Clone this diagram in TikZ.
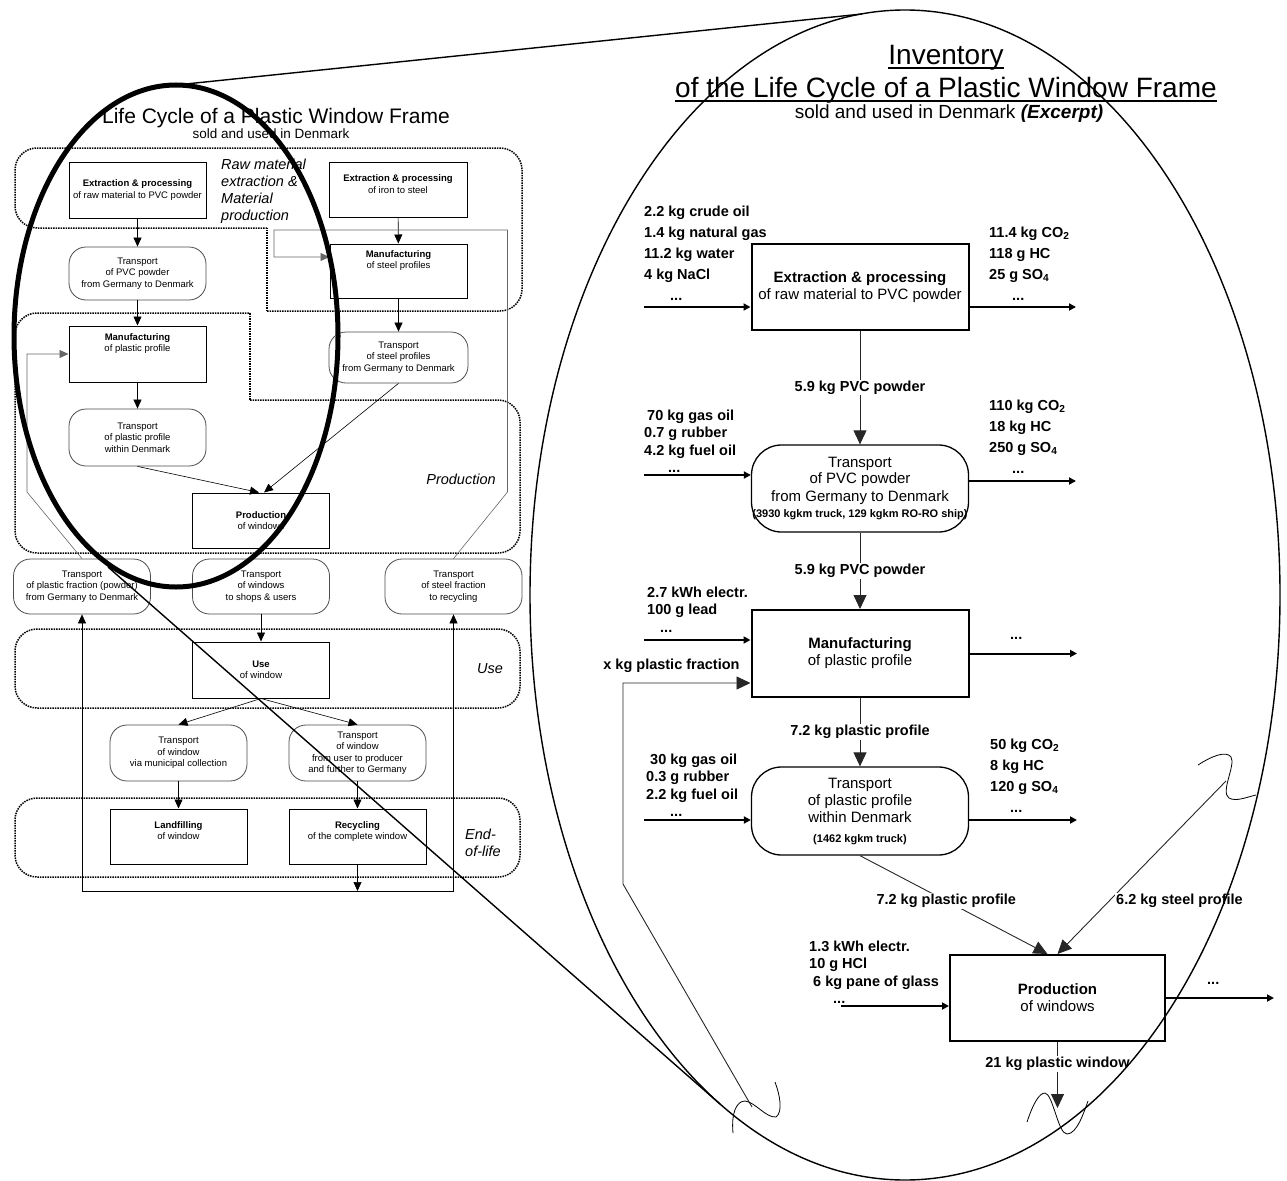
\documentclass[tikz,border=0pt]{standalone}
\usepackage{fontspec}
\setmainfont{Liberation Sans}
\usetikzlibrary{arrows.meta}

% text sizes
\newcommand\cyclefont{\fontsize{9.5}{11.5}\selectfont}
\newcommand\zonefont{\fontsize{14.5}{17}\selectfont\itshape}
\newcommand\invfont{\fontsize{15}{17}\selectfont}
\newcommand\qtyfont{\fontsize{14.5}{17.5}\selectfont\bfseries}
\newcommand\emisfont{\fontsize{14.5}{21}\selectfont\bfseries}
\newcommand\kmfont{\fontsize{11}{13}\selectfont\bfseries}

\tikzset{
  zone/.style={densely dotted, line width=1.5pt, rounded corners=22pt},
  zonelabel/.style={font=\zonefont, inner sep=0pt, align=left},
  procbox/.style={draw, fill=white, line width=1pt, minimum width=137, minimum height=55,
    inner sep=0pt, align=center, font=\cyclefont},
  transbox/.style={procbox, draw=black!70, line width=0.8pt, rounded corners=17pt},
  flow/.style={-{Triangle[length=9pt,width=8pt]}, line width=0.6pt},
  backflow/.style={flow, draw=black!60},
  invbox/.style={draw, fill=white, line width=2pt, minimum width=217, minimum height=86,
    inner sep=0pt, align=center, font=\invfont},
  invtrans/.style={invbox, line width=1.3pt, rounded corners=30pt},
  io/.style={line width=2pt, -{Triangle[length=7pt,width=7pt]}},
  link/.style={line width=0.9pt, draw=black!85, -{Triangle[length=14pt,width=13pt]}},
  qty/.style={font=\qtyfont, fill=white, inner sep=1pt},
  flowtext/.style={font=\qtyfont, align=left, anchor=base west, inner sep=0pt},
  emission/.style={flowtext, font=\emisfont},
  headline/.style={anchor=base, inner sep=0pt, font=\fontsize{28}{32}\selectfont},
  underline/.style={line width=1.8pt},
  cut/.style={line width=0.8pt},
  lens/.style={line width=5pt},
  cone/.style={line width=1.4pt},
}

\begin{document}
\begin{tikzpicture}[x=1pt, y=-1pt]
\useasboundingbox (0,0) rectangle (1287,1180);

% ---------- life cycle overview ----------
\node[font=\fontsize{21}{24}\selectfont, anchor=base] (lcTitle) at (276,124) {Life Cycle of a Plastic Window Frame};
\node[font=\fontsize{13.5}{16}\selectfont, anchor=base] (lcSub) at (271,139) {sold and used in Denmark};

% stages
\draw[zone] (267,228) -- (15,228) -- (15,148) -- (522,148) -- (522,311) -- (267,311);
\draw[zone] (267,311) -- (267,228);
\draw[zone] (250,400) -- (520,400) -- (520,553) -- (15,553) -- (15,313) -- (250,313);
\draw[zone] (250,313) -- (250,400);
\draw[zone] (15,629) rectangle (520,708);
\draw[zone] (15,798) rectangle (520,877);

% (multi-line labels sit on the baseline of their last line)
\node[zonelabel, anchor=base west] (zRaw) at (221,220) {Raw material\\extraction \&\\Material\\production};
\node[zonelabel, anchor=base] (zProd) at (461,484) {Production};
\node[zonelabel, anchor=base] (zUse) at (490,673) {Use};
\node[zonelabel, anchor=base west] (zEnd) at (465,856) {End-\\of-life};

% processes
\node[procbox, minimum height=56] (rawPVC) at (137.5,190) {\textbf{Extraction \& processing}\\of raw material to PVC powder};
\node[procbox, minimum width=138] (rawSteel) at (398,190) {\textbf{Extraction \& processing}\\of iron to steel\\\mbox{}};
\node[transbox, minimum height=53] (tPVC) at (137.5,273.5) {Transport\\of PVC powder\\from Germany to Denmark};
\node[procbox, minimum height=54] (mSteel) at (398.5,271) {\textbf{Manufacturing}\\of steel profiles\\\mbox{}\\\mbox{}};
\node[procbox, minimum height=56] (mPlastic) at (137.5,354) {\textbf{Manufacturing}\\of plastic profile\\\mbox{}\\\mbox{}};
\node[transbox, minimum width=139, minimum height=51] (tSteel) at (398.5,357.5) {Transport\\of steel profiles\\from Germany to Denmark};
\node[transbox, minimum height=57] (tPlastic) at (137.5,437.5) {Transport\\of plastic profile\\within Denmark};
\node[procbox] (prodWin) at (261,520.5) {\textbf{Production}\\of windows};
\node[transbox] (tFraction) at (82,586.5) {Transport\\of plastic fraction (powder)\\from Germany to Denmark};
\node[transbox] (tWindows) at (261,586.5) {Transport\\of windows\\to shops \& users};
\node[transbox] (tScrap) at (453.5,586.5) {Transport\\of steel fraction\\to recycling};
\node[procbox, minimum height=56] (useWin) at (261,670) {\textbf{Use}\\of window};
\node[transbox, minimum height=56] (tMunicipal) at (178.5,753) {Transport\\of window\\via municipal collection};
\node[transbox, minimum height=56] (tReturn) at (357.5,753) {Transport\\of window\\from user to producer\\and further to Germany};
\node[procbox] (landfill) at (178.5,836.5) {\textbf{Landfilling}\\of window\\\mbox{}};
\node[procbox] (recycle) at (357.5,836.5) {\textbf{Recycling}\\of the complete window\\\mbox{}};

% material flows
\draw[flow] (rawPVC) -- (tPVC);
\draw[flow] (rawSteel) -- (mSteel);
\draw[flow] (tPVC) -- (mPlastic);
\draw[flow] (mSteel) -- (tSteel);
\draw[flow] (mPlastic) -- (tPlastic);
\draw[flow] (tPlastic.south) -- ([xshift=-2pt]prodWin.north);
\draw[flow] (tSteel.south) -- ([xshift=3pt]prodWin.north);
\draw[flow] (tWindows) -- (useWin);
\draw[flow] (useWin.south) -- (tMunicipal.north);
\draw[flow] (useWin.south) -- (tReturn.north);
\draw[flow] (tMunicipal) -- (landfill);
\draw[flow] (tReturn) -- (recycle);
\coordinate (sortPt) at (357.5,891);
\draw[flow] (recycle) -- (sortPt);
\draw[flow] (sortPt) -| (tFraction);
\draw[flow] (sortPt) -| (tScrap);

% recycled fractions back into manufacturing
\draw[backflow] (tFraction.north) -- (27,492) |- (mPlastic.west);
\draw[backflow] (tScrap.north) -- (507.5,492) -- (507.5,230) -- (274,230) -- (274,257) -- ([yshift=14pt]mSteel.west);

% ---------- inventory excerpt ----------
\node[headline] (invTitleA) at (946,65) {Inventory};
\node[headline] (invTitleB) at (946,98) {of the Life Cycle of a Plastic Window Frame};
\draw[underline] ([yshift=-3pt]invTitleA.base west) -- ([yshift=-3pt]invTitleA.base east);
\draw[underline] ([yshift=-3pt]invTitleB.base west) -- ([yshift=-3pt]invTitleB.base east);
\node[font=\fontsize{19}{22}\selectfont, anchor=base] (invTitleC) at (949,119) {sold and used in Denmark \textbf{\textit{(Excerpt)}}};

\node[invbox] (iExtract) at (860,287) {\textbf{Extraction \& processing}\\of raw material to PVC powder};
\node[invtrans, minimum height=87] (iTrans) at (860,488.5) {Transport\\of PVC powder\\from Germany to Denmark\\{\kmfont (3930 kgkm truck, 129 kgkm RO-RO ship)}};
\node[invbox, minimum height=87] (iManuf) at (860,653.5) {\textbf{Manufacturing}\\of plastic profile};
\node[invtrans, minimum height=88] (iTransProf) at (860,811) {Transport\\of plastic profile\\within Denmark\\[3pt]{\kmfont (1462 kgkm truck)}};
\node[invbox, minimum width=215] (iProd) at (1057.5,998) {\textbf{Production}\\of windows};

% main chain
\draw[link] (iExtract) -- node[qty]{5.9 kg PVC powder} (iTrans);
\draw[link] (iTrans) -- node[qty]{5.9 kg PVC powder} (iManuf);
\draw[link] (iManuf) -- node[qty]{7.2 kg plastic profile} (iTransProf);
\draw[link] (iTransProf.south) -- node[qty, pos=0.46]{7.2 kg plastic profile} ([xshift=-10pt]iProd.north);
\coordinate (steelCut) at (1226,781);
\draw[link] (steelCut) -- node[qty, pos=0.69, anchor=west, xshift=5pt]{6.2 kg steel profile} (iProd.north);
\coordinate (windowCut) at (1057.5,1108);
\draw[link] (iProd) -- node[qty, pos=0.33]{21 kg plastic window} (windowCut);
\coordinate (fractionCut) at (752,1107);
\draw[link] (fractionCut) -- (623,884) |- node[qty, pos=0.69, above=9pt]{x kg plastic fraction} ([yshift=-29.5pt]iManuf.west);

% inputs and outputs
\coordinate (extSrc) at (644,307);   \coordinate (extSink) at (1076,307);
\coordinate (transSrc) at (644,475); \coordinate (transSink) at (1076,481);
\coordinate (manSrc) at (644,640);   \coordinate (manSink) at (1077,653.5);
\coordinate (profSrc) at (644,820);  \coordinate (profSink) at (1077,820);
\coordinate (prodSrc) at (841,1006); \coordinate (prodSink) at (1274,998);
\draw[io] (extSrc) -- (extSrc -| iExtract.west);
\draw[io] (extSink -| iExtract.east) -- (extSink);
\draw[io] (transSrc) -- (transSrc -| iTrans.west);
\draw[io] (transSink -| iTrans.east) -- (transSink);
\draw[io] (manSrc) -- (manSrc -| iManuf.west);
\draw[io] (manSink -| iManuf.east) -- (manSink);
\draw[io] (profSrc) -- (profSrc -| iTransProf.west);
\draw[io] (profSink -| iTransProf.east) -- (profSink);
\draw[io] (prodSrc) -- (prodSrc -| iProd.west);
\draw[io] (prodSink -| iProd.east) -- (prodSink);

\node[emission] (extIn) at (644,300) {2.2 kg crude oil\\1.4 kg natural gas\\11.2 kg water\\4 kg NaCl\\\hspace*{26pt}...};
\node[emission] (extOut) at (989,300) {11.4 kg CO\textsubscript{2}\\118 g HC\\25 g SO\textsubscript{4}\\\hspace*{23pt}...};
\node[flowtext] (transIn) at (644,472.5) {\hspace*{3pt}70 kg gas oil\\0.7 g rubber\\4.2 kg fuel oil\\\hspace*{24pt}...};
\node[emission] (transOut) at (989,473) {110 kg CO\textsubscript{2}\\18 kg HC\\250 g SO\textsubscript{4}\\\hspace*{23pt}...};
\node[flowtext] (manIn) at (644,632) {\hspace*{3pt}2.7 kWh electr.\\\hspace*{3pt}100 g lead\\\hspace*{16pt}...};
\node[flowtext] (manOut) at (1010,639) {...};
\node[flowtext] (profIn) at (646,816.5) {\hspace*{4pt}30 kg gas oil\\0.3 g rubber\\2.2 kg fuel oil\\\hspace*{24pt}...};
\node[emission] (profOut) at (990,812) {50 kg CO\textsubscript{2}\\8 kg HC\\120 g SO\textsubscript{4}\\\hspace*{20pt}...};
\node[flowtext] (prodIn) at (809,1003.5) {1.3 kWh electr.\\10 g HCl\\\hspace*{4pt}6 kg pane of glass\\\hspace*{24pt}...};
\node[flowtext] (prodOut) at (1207,984) {...};

% cut marks on the open ends
\draw[cut] (733,1133) .. controls (731,1112) and (737,1101) .. (745,1101) .. controls (755,1102) and (766,1118) .. (776,1117) .. controls (783,1112) and (780,1095) .. (775,1082);
\draw[cut] (1027,1122) .. controls (1033,1104) and (1039,1093) .. (1045,1093) .. controls (1053,1094) and (1058,1134) .. (1067,1134) .. controls (1077,1134) and (1084,1112) .. (1088,1101);
\draw[cut] (1198,765) .. controls (1210,757) and (1226,750) .. (1231,757) .. controls (1236,765) and (1220,792) .. (1229,798) .. controls (1236,802) and (1247,797) .. (1256,795);

% magnifier
\draw[lens] (176,336) ellipse [x radius=162, y radius=251];
\draw[cone] (905,595) ellipse [x radius=375, y radius=585];
\coordinate (lensTop) at (176,85);   \coordinate (zoomTop) at (862,14);
\coordinate (lensFoot) at (108,567); \coordinate (zoomFoot) at (720,1104);
\draw[cone] (lensTop) -- (zoomTop);
\draw[cone] (lensFoot) -- (zoomFoot);
\end{tikzpicture}
\end{document}
